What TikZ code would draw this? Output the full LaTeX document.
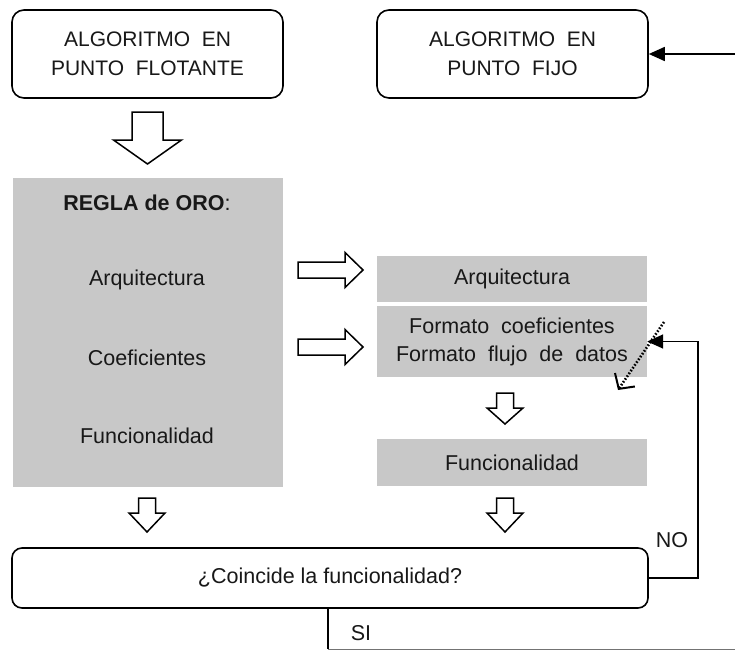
\documentclass[tikz,border=0pt]{standalone}
\usepackage{fontspec}
\setmainfont{Liberation Sans}
\usetikzlibrary{arrows.meta}
\definecolor{boxgray}{RGB}{200,200,200}
\definecolor{ink}{RGB}{24,24,24}

% hollow block arrows: x, top y, shaft half width, head half width, head start y, tip y
\newcommand{\blkdown}[6]{%
  \draw[blk] (#1-#3,#2) -- (#1+#3,#2) -- (#1+#3,#5) -- (#1+#4,#5) -- (#1,#6)
    -- (#1-#4,#5) -- (#1-#3,#5) -- cycle;}
% left x, centre y, shaft half width, head half width, head start x, tip x
\newcommand{\blkright}[6]{%
  \draw[blk] (#1,#2-#3) -- (#5,#2-#3) -- (#5,#2-#4) -- (#6,#2) -- (#5,#2+#4)
    -- (#5,#2+#3) -- (#1,#2+#3) -- cycle;}

\begin{document}
\begin{tikzpicture}[x=1pt,y=-1pt,
  txt/.style={text=ink,font=\fontsize{21.5}{26}\selectfont,inner sep=0pt,align=center},
  rbox/.style={draw=black,line width=1.6pt,rounded corners=12pt,fill=white,
    txt,minimum width=#1},
  gbox/.style={fill=boxgray,draw=none,txt,minimum width=270pt},
  blk/.style={draw=black,line width=1.5pt,fill=white,line join=miter},
  flow/.style={draw=black,line width=1.6pt,-{Triangle[length=16pt,width=14pt]}},
  plain/.style={draw=black,line width=1.6pt}]
\useasboundingbox (0,0) rectangle (735,650);

% top boxes
\node[rbox=271pt,minimum height=88pt,font=\fontsize{21}{26}\selectfont] (flot) at (147.5,54)
  {ALGORITMO\ \ EN\\[3pt]PUNTO\ \ FLOTANTE};
\node[rbox=271pt,minimum height=88pt,font=\fontsize{21}{26}\selectfont] (fijo) at (512.5,54)
  {ALGORITMO\ \ EN\\[3pt]PUNTO\ \ FIJO};

% golden rule block
\node[gbox,minimum height=309pt] (regla) at (148,332.5) {};
\node[txt] (rtit) at (147,203) {\textbf{REGLA de ORO}:};
\node[txt] (rarq) at (147,280) {Arquitectura};
\node[txt] (rcoe) at (147,358) {Coeficientes};
\node[txt] (rfun) at (147,436) {Funcionalidad};

% fixed-point steps
\node[gbox,minimum height=46pt] (arq) at (512,279) {Arquitectura};
\node[gbox,minimum height=71pt] (fmt) at (512,341.5)
  {Formato\ \ coeficientes\\[2pt]Formato\ \ flujo\ \ de\ \ datos};
\node[gbox,minimum height=47pt] (fun) at (512,462.5) {Funcionalidad};

% decision
\node[draw=black,line width=1.6pt,rounded corners=10pt,fill=white,txt,
  minimum width=636pt,minimum height=60pt] (dec) at (330,578)
  {¿Coincide la funcionalidad?};

% hollow block arrows
\blkdown{147.5}{112}{15.5}{34}{140}{164}
\blkright{298}{270}{8}{17.5}{345}{363}
\blkright{298}{347}{8}{17.5}{345}{363}
\blkdown{505}{393}{8.5}{18}{408}{424}
\blkdown{147}{498}{8.5}{18}{513}{532}
\blkdown{505}{498}{8.5}{18}{513}{532}

% incoming arrow to the fixed-point algorithm
\coordinate (inR) at (735,54);
\draw[flow] (inR) -- (fijo.east);

% feedback loop when functionality does not match
\coordinate (loopc) at (698,341.5);
\draw[flow] (dec.east) -| (loopc) -- (fmt.east);
\node[txt] (no) at (672,540) {NO};

% dotted adjustment arrow
\coordinate (dA) at (664,322);
\coordinate (dB) at (618,390);
\draw[black,line width=2.6pt,dash pattern=on 1.6pt off 1.8pt,
  -{Straight Barb[length=11pt,width=24pt,line width=2pt]}] (dA) -- (dB);

% exit when functionality matches
\coordinate (sA) at (328,649);
\coordinate (sB) at (735,649);
\draw[plain] (dec.south -| sA) -- (sA);
\draw[draw=black!55,line width=1pt] (sA) -- (sB);
\node[txt] (si) at (361,633) {SI};
\end{tikzpicture}
\end{document}
